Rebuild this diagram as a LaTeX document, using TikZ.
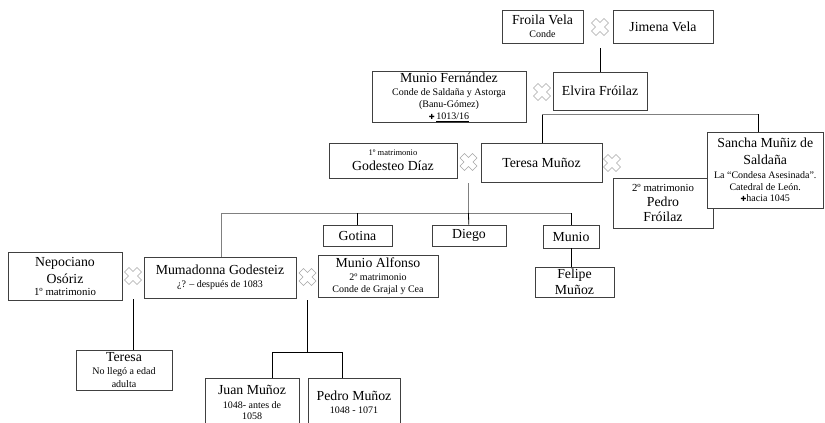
\documentclass[tikz,border=0pt]{standalone}
\usepackage{fontspec}
\setmainfont{Liberation Serif}
\newfontfamily\simbolo{DejaVu Sans}
\usetikzlibrary{positioning}
\newcommand{\chico}{\fontsize{10}{12}\selectfont}
\newcommand{\medio}{\fontsize{10.8}{12}\selectfont}
\newcommand{\mini}{\fontsize{8.5}{10}\selectfont}
\newcommand{\cruz}{{\simbolo\fontsize{7}{7}\selectfont ✚}}

\begin{document}
\begin{tikzpicture}[x=1pt, y=-1pt, line width=0.8pt,
persona/.style={rectangle, draw=black!75, fill=white, align=center, inner sep=1pt},
marca/.style={minimum size=18pt, inner sep=0pt, fill=white, path picture={
  \draw[black!35, line width=0.6pt, shift={(path picture bounding box.center)}]
  (-3.96pt,8.49pt) -- (-8.49pt,3.96pt) -- (-4.525pt,0pt) -- (-8.49pt,-3.96pt) -- (-3.96pt,-8.49pt) -- (0pt,-4.525pt)
  -- (3.96pt,-8.49pt) -- (8.49pt,-3.96pt) -- (4.525pt,0pt) -- (8.49pt,3.96pt) -- (3.96pt,8.49pt) -- (0pt,4.525pt) -- cycle;}},
gris/.style={draw=black!50}]
\tikzstyle{every node}=[font=\fontsize{13.8}{16}\selectfont]
\useasboundingbox (0,0) rectangle (825,423);

\node[persona, minimum width=81pt, minimum height=33pt] (1) at (542.5,26.5) {Froila Vela\\[-3pt]{\chico Conde}};
\node[persona, minimum width=100pt, minimum height=33pt] (2) at (663,26.5) {Jimena Vela};
\node[persona, minimum width=154pt, minimum height=50pt] (3) at (449,97) {Munio Fernández\\[-3pt]{\chico Conde de Saldaña y Astorga}\\[-4pt]{\chico (Banu-Gómez)}\\[-4pt]{\chico\cruz\,\underline{1013/16}}};
\node[persona, minimum width=94pt, minimum height=38pt] (4) at (600,91) {Elvira Fróilaz};
\node[persona, minimum width=128pt, minimum height=35pt] (5) at (393,160.5) {{\mini 1º matrimonio}\\[-1pt]Godesteo Díaz};
\node[persona, minimum width=121pt, minimum height=39pt] (6) at (541.5,162.5) {Teresa Muñoz};
\node[persona, minimum width=100pt, minimum height=50pt] (7) at (663,203) {{\medio 2º matrimonio}\\[-1pt]Pedro\\[-1pt]Fróilaz};
\node[persona, minimum width=116.5pt, minimum height=76pt] (8) at (765.25,170) {Sancha Muñiz de\\[1pt]Saldaña\\[-2pt]{\chico La “Condesa Asesinada”.}\\[-4.5pt]{\chico Catedral de León.}\\[-4.5pt]{\chico\cruz hacia 1045}};
\node[persona, minimum width=69pt, minimum height=21pt] (9) at (357.5,235.5) {Gotina};
\node[persona, minimum width=74pt, minimum height=21pt] (10) at (469,235.5) {Diego};
\node[persona, minimum width=56pt, minimum height=23pt] (11) at (571,236.5) {Munio};
\node[persona, minimum width=79pt, minimum height=30pt] (12) at (574.5,282) {Felipe\\Muñoz};
\node[persona, minimum width=114pt, minimum height=48pt] (13) at (65,276) {Nepociano\\[1pt]Osóriz\\[-4pt]{\medio 1º matrimonio}};
\node[persona, minimum width=152pt, minimum height=41pt] (14) at (220,277.5) {Mumadonna Godesteiz\\[-3pt]{\chico ¿? – después de 1083}};
\node[persona, minimum width=120pt, minimum height=42pt] (15) at (378,276) {Munio Alfonso\\[-3pt]{\chico 2º matrimonio}\\[-4.5pt]{\chico Conde de Grajal y Cea}};
\node[persona, minimum width=96pt, minimum height=40pt] (16) at (124,370) {Teresa\\[-3pt]{\chico No llegó a edad}\\[-3pt]{\chico adulta}};
\node[persona, minimum width=94pt, minimum height=48pt] (17) at (252,402) {Juan Muñoz\\[-2pt]{\chico 1048- antes de}\\[-5pt]{\chico 1058}};
\node[persona, minimum width=92pt, minimum height=48pt] (18) at (354,402) {Pedro Muñoz\\[-3pt]{\chico 1048 - 1071}};

\node[marca] (19) at (600,27) {};
\node[marca] (20) at (542,92) {};
\node[marca] (21) at (468.5,162) {};
\node[marca] (22) at (612,163) {};
\node[marca] (23) at (133,276) {};
\node[marca] (24) at (307.5,277) {};

\coordinate (c1) at (542,114);
\coordinate (c2) at (758,114);
\coordinate (c3) at (468.5,213);
\coordinate (c4) at (221,213);
\coordinate (c5) at (571,213);
\coordinate (c6) at (307.5,352);
\coordinate (c7) at (272,352);
\coordinate (c8) at (342,352);

\draw[shorten <=12pt] (19) -- (4);
\draw (c1) -- (c1 |- 6.north);
\draw[gris] (c1) -- (c2);
\draw (c2) -- (c2 |- 8.north);
\draw[gris, shorten <=12pt] (21) -- (c3);
\draw[gris] (c4) -- (c5);
\draw[gris] (c4) -- (c4 |- 14.north);
\draw (9.north) -- (9.north |- c3);
\draw (c3) -- (10);
\draw (c5) -- (11);
\draw (11) -- (11 |- 12.north);
\draw[shorten <=14pt] (23) -- (23 |- 16.north);
\draw[shorten <=14pt] (24) -- (c6);
\draw (c7) -- (c8);
\draw (c7) -- (c7 |- 17.north);
\draw (c8) -- (c8 |- 18.north);
\end{tikzpicture}
\end{document}
